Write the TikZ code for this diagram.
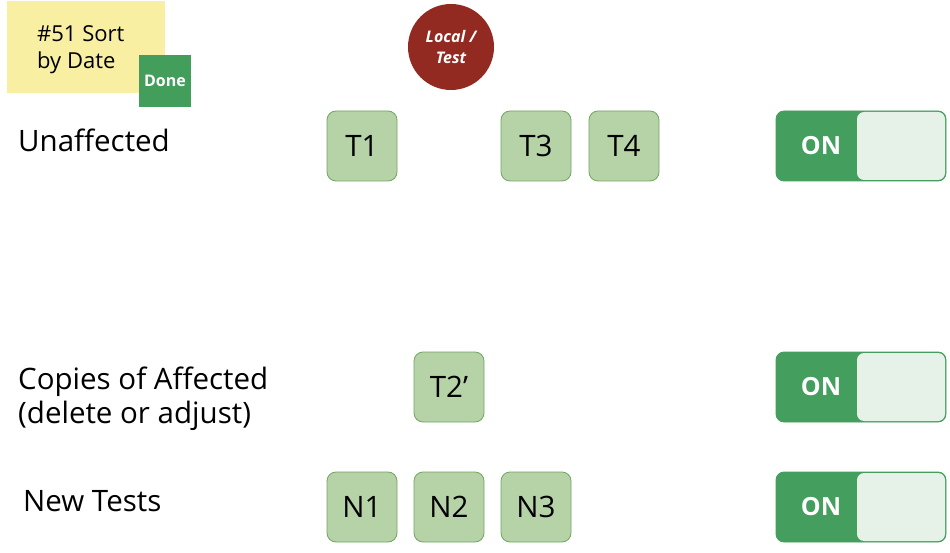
\documentclass[tikz,border=0pt]{standalone}
\usepackage{fontspec}
\setmainfont{Open Sans}
\definecolor{sticky}{HTML}{F9EFA2}
\definecolor{donegreen}{HTML}{439E5B}
\definecolor{localred}{HTML}{932A22}
\definecolor{tfill}{HTML}{B6D3A7}
\definecolor{tline}{HTML}{70A562}
\definecolor{toggreen}{HTML}{449E5E}
\definecolor{toglight}{HTML}{E6F1E8}
\tikzset{
  testbox/.style={draw=tline, fill=tfill, line width=0.8pt, rounded corners=9pt,
    minimum width=70pt, minimum height=70pt, inner sep=0pt,
    font=\fontsize{29.5}{34}\selectfont},
  rowlabel/.style={anchor=west, inner sep=0pt, align=left,
    font=\fontsize{29.5}{34}\selectfont},
  togouter/.style={draw=toggreen, fill=toggreen, line width=0.8pt, rounded corners=8pt,
    minimum width=170pt, minimum height=70pt, inner sep=0pt},
  togknob/.style={fill=toglight, rounded corners=7pt,
    minimum width=88pt, minimum height=68pt, inner sep=0pt},
  ontext/.style={text=white, inner sep=0pt, font=\fontsize{25}{28}\selectfont\bfseries}
}
\begin{document}
\begin{tikzpicture}[x=1pt,y=-1pt]
\useasboundingbox[fill=white] (0,0) rectangle (950,553);
% sticky note
\node[fill=sticky, minimum width=158pt, minimum height=92pt, inner sep=0pt] (sticky) at (86,47) {};
\node[anchor=west, align=left, inner sep=0pt, font=\fontsize{22}{27}\selectfont] (stickytext) at (37,50) {\#51 Sort\\by Date};
\node[fill=donegreen, minimum width=52pt, minimum height=52pt, inner sep=0pt, text=white,
  font=\fontsize{16}{18}\selectfont\bfseries] (done) at (165,81) {Done};
% local/test circle
\node[circle, fill=localred, minimum size=86pt, inner sep=0pt, text=white, align=center,
  font=\fontsize{16}{21}\selectfont\bfseries\itshape] (local) at (451,47) {Local /\\Test};
% row labels
\node[rowlabel] (unaff) at (18,140) {Unaffected};
\node[rowlabel] (copies) at (18,399) {Copies of Affected\\(delete or adjust)};
\node[rowlabel] (newt) at (23,501) {New Tests};
% test boxes
\node[testbox] (t1) at (362,146) {T1};
\node[testbox] (t3) at (536,146) {T3};
\node[testbox] (t4) at (624,146) {T4};
\node[testbox] (t2p) at (449,387) {T2’};
\node[testbox] (n1) at (362,507) {N1};
\node[testbox] (n2) at (449,507) {N2};
\node[testbox] (n3) at (536,507) {N3};
% toggles
\foreach \name/\y in {tga/146, tgb/387, tgc/507}{
  \node[togouter] (\name) at (861,\y) {};
  \node[togknob] (\name k) at (901,\y) {};
  \node[ontext] (\name on) at (821,\y) {ON};
}
\end{tikzpicture}
\end{document}
